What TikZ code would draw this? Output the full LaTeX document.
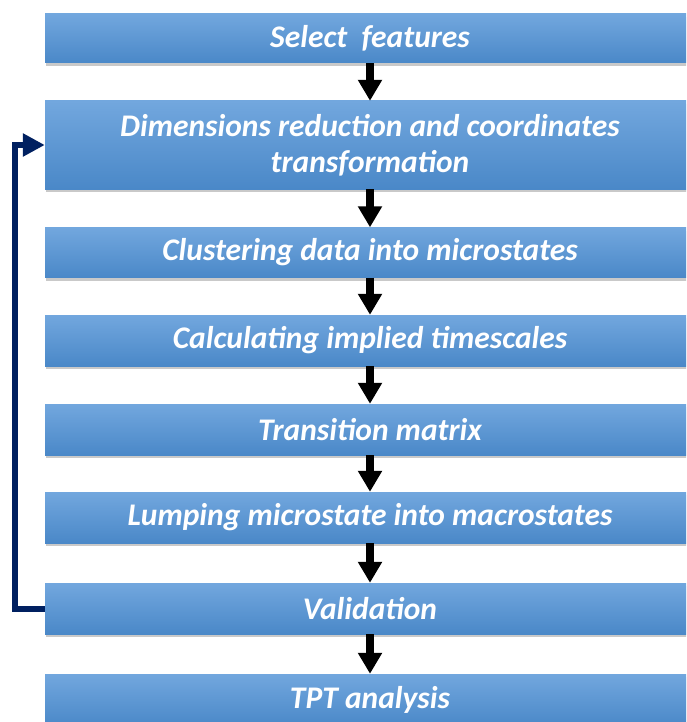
\documentclass[tikz,border=0pt]{standalone}
\usepackage{fontspec}
\setmainfont{Carlito}
\usetikzlibrary{arrows.meta,shadows}
\definecolor{boxtop}{HTML}{72A7DE}
\definecolor{boxmid}{HTML}{5A9AD8}
\definecolor{boxbot}{HTML}{4A88C8}
\definecolor{navy}{HTML}{002060}
\begin{document}
\begin{tikzpicture}[x=1pt,y=1pt,
  stepbox/.style={rectangle, inner sep=0pt, minimum width=650pt, align=center,
    top color=boxtop, middle color=boxmid, bottom color=boxbot,
    drop shadow={shadow xshift=1pt, shadow yshift=-3pt, opacity=0.35, fill=black!60},
    text=white, font=\fontsize{31.5}{36}\selectfont\bfseries\itshape},
  flow/.style={line width=8pt, -{Triangle[width=23pt,length=21pt]}, black},
  back/.style={line width=6pt, navy, -{Triangle[width=22pt,length=22pt]}}]
\useasboundingbox (0,0) rectangle (686,-722);
\clip (0,0) rectangle (686,-722);
\fill[white] (0,0) rectangle (686,-722);
\node[stepbox, minimum height=49pt] (s) at (370,-38.5) {Select\ \ features};
\node[stepbox, minimum height=88pt] (d) at (370,-145) {Dimensions reduction and coordinates\\transformation};
\node[stepbox, minimum height=50pt] (c) at (370,-252.5) {Clustering data into microstates};
\node[stepbox, minimum height=51pt] (i) at (370,-340.5) {Calculating implied timescales};
\node[stepbox, minimum height=51pt] (t) at (370,-429.5) {Transition matrix};
\node[stepbox, minimum height=51pt] (l) at (370,-517.5) {Lumping microstate into macrostates};
\node[stepbox, minimum height=51pt] (v) at (370,-608.5) {Validation};
\node[stepbox, minimum height=52pt] (p) at (370,-700) {TPT analysis};
\draw[flow] (s.south) -- (d.north);
\draw[flow] (d.south) -- (c.north);
\draw[flow] (c.south) -- (i.north);
\draw[flow] (i.south) -- (t.north);
\draw[flow] (t.south) -- (l.north);
\draw[flow] (l.south) -- (v.north);
\draw[flow] (v.south) -- (p.north);
\coordinate (fb) at (14.5,0);
\draw[back] (v.west) -- (v.west -| fb) |- (d.west);
\end{tikzpicture}
\end{document}
